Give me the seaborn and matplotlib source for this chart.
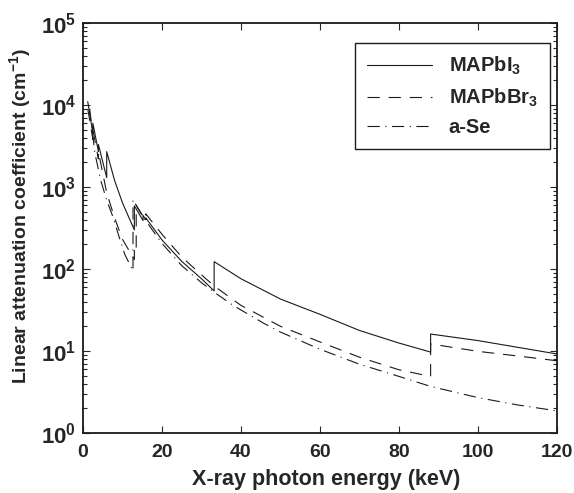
import numpy as np
import pandas as pd
import matplotlib
matplotlib.use("Agg")
import matplotlib.pyplot as plt
import seaborn as sns

# values (keV, cm^-1); repeated energies are absorption edges
e_mapbi3 = [1.2, 2.5, 2.5, 3.9, 3.9, 6.0, 6.0, 8, 10, 13.0, 13.0, 15.2, 15.2, 15.9, 15.9,
            20, 25, 30, 33.2, 33.2, 40, 50, 60, 70, 80, 88.0, 88.0, 100, 110, 120]
mu_mapbi3 = [11000, 4500, 6000, 2700, 3300, 1300, 2700, 1200, 640, 300, 590, 390, 450, 400, 420,
             226, 124, 76, 54, 123, 76, 43, 28, 17.8, 12.5, 9.7, 16.1, 13.4, 11.1, 9.2]

e_mapbbr3 = [1.2, 2.5, 2.5, 3.9, 3.9, 6, 8, 10, 13.0, 13.0, 13.47, 13.47, 15.2, 15.2, 15.9, 15.9,
             20, 25, 30, 33.2, 40, 50, 60, 70, 80, 88.0, 88.0, 100, 110, 120]
mu_mapbbr3 = [9000, 3800, 5000, 2200, 2700, 850, 420, 230, 130, 190, 175, 600, 440, 480, 440, 470,
              265, 140, 85, 62, 36, 20, 12.9, 8.4, 5.9, 4.9, 12.2, 9.9, 8.7, 7.6]

e_ase = [1.7, 3, 4.5, 6, 7.6, 9.1, 10.6, 12.66, 12.66, 15, 20, 25, 30, 33, 38, 45.6,
         50, 60, 70, 80, 88, 100, 110, 120]
mu_ase = [9000, 2600, 1200, 690, 430, 250, 150, 95, 700, 445, 205, 110, 68, 53, 36, 22,
          17, 10.5, 6.9, 4.9, 3.7, 2.7, 2.2, 1.86]

labels = [r'MAPbI$_\mathbf{3}$', r'MAPbBr$_\mathbf{3}$', 'a-Se']
styles = ['-', (0, (11, 8)), (0, (11, 5, 1, 5))]

sns.set_theme(style='ticks')
plt.rcParams['font.family'] = ['Liberation Sans', 'DejaVu Sans']
plt.rcParams['font.weight'] = 'bold'
plt.rcParams['mathtext.fontset'] = 'custom'
plt.rcParams['mathtext.rm'] = 'Liberation Sans:bold'
plt.rcParams['mathtext.bf'] = 'Liberation Sans:bold'
plt.rcParams['mathtext.it'] = 'Liberation Sans:bold'

fig = plt.figure(figsize=(5.74, 4.93), dpi=100)
ax = fig.add_axes([0.1446, 0.1217, 0.8258, 0.8316])

series = [(e_mapbi3, mu_mapbi3), (e_mapbbr3, mu_mapbbr3), (e_ase, mu_ase)]
for (e, mu), lab, ls in zip(series, labels, styles):
    sns.lineplot(x=e, y=mu, ax=ax, estimator=None, sort=False, color='k',
                 lw=0.8, linestyle=ls, label=lab)

ax.set_yscale('log')
ax.set_xlim(0, 120)
ax.set_ylim(1, 1e5)
ax.set_xticks([0, 20, 40, 60, 80, 100, 120])
ax.set_xticklabels(['0', '20', '40', '60', '80', '100', '120'])
ax.set_yticks([1, 10, 100, 1e3, 1e4, 1e5])
ax.set_yticklabels([r'$\mathbf{10^{%d}}$' % k for k in range(6)])
ax.tick_params(which='both', direction='in', top=True, right=True, width=0.8)
ax.tick_params(which='major', length=5)
ax.tick_params(which='minor', length=3)
ax.tick_params(axis='x', labelsize=14, pad=8)
ax.tick_params(axis='y', labelsize=16, pad=5)
for s in ax.spines.values():
    s.set_linewidth(1.3)
    s.set_color('k')

ax.set_xlabel('X-ray photon energy (keV)', fontsize=15.5, fontweight='bold')
ax.set_ylabel(r'Linear attenuation coefficient (cm$^{\mathbf{-1}}$)', fontsize=14,
              fontweight='bold')
ax.xaxis.set_label_coords(0.513, -0.088)
ax.yaxis.set_label_coords(-0.106, 0.53)

leg = ax.legend(loc='upper right', bbox_to_anchor=(0.985, 0.951), borderaxespad=0,
                fontsize=14.5, handlelength=3.2, handletextpad=0.85, labelspacing=0.45,
                fancybox=False, framealpha=1, edgecolor='k', borderpad=0.6)
leg.get_frame().set_linewidth(1.0)

fig.savefig('out.png', dpi=100)
